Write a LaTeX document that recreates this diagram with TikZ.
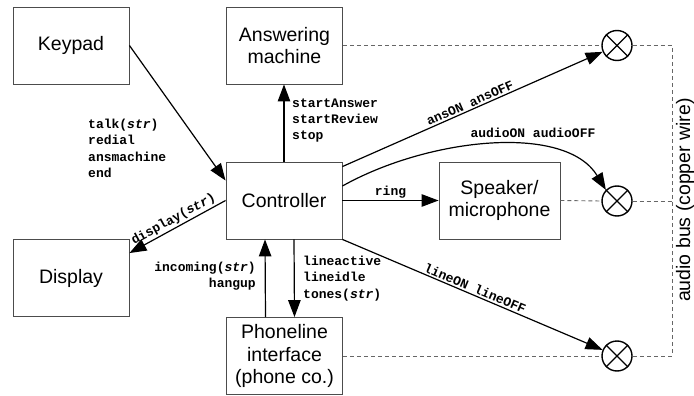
\documentclass[tikz,border=0pt]{standalone}
\usepackage{fontspec}
\setmainfont{Liberation Sans}
\setmonofont{Liberation Mono}
\usetikzlibrary{arrows.meta,calc}
\begin{document}
\begin{tikzpicture}[x=1pt,y=-1pt,
  box/.style={draw=black!70, line width=0.9pt, minimum width=116pt, minimum height=77pt,
    inner sep=0pt, align=center, font=\fontsize{19.5}{22.5}\selectfont},
  mixer/.style={circle, draw, line width=1.4pt, minimum size=30pt, inner sep=0pt},
  sig/.style={-{Triangle[length=17pt,width=12.5pt]}, line width=1.2pt},
  bus/.style={draw=black!60, line width=0.9pt, dash pattern=on 4pt off 3pt},
  lbl/.style={font=\fontsize{13}{16.3}\selectfont\ttfamily\bfseries, inner sep=2pt},
]
\useasboundingbox (0,0) rectangle (694,396);

% components
\node[box] (keypad) at (71,45.5) {Keypad};
\node[box] (ans) at (284.5,45.5) {Answering\\machine};
\node[box] (ctrl) at (284,200.5) {Controller};
\node[box] (disp) at (71,278) {Display};
\node[box, minimum width=121pt] (spk) at (499.5,200.5) {Speaker/\\microphone};
\node[box] (phone) at (284.5,356) {Phoneline\\interface\\(phone co.)};

% audio switches
\node[mixer] (m1) at (617,45.5) {};
\node[mixer] (m2) at (617,201) {};
\node[mixer] (m3) at (617,356) {};
\foreach \m in {m1,m2,m3}
  \draw[line width=1.4pt] (\m.north west) -- (\m.south east)
                          (\m.north east) -- (\m.south west);

% audio bus
\coordinate (busT) at (672,45.5);
\coordinate (busB) at (672,356);
\draw[bus] (ans.east) -- (m1.west);
\draw[bus] (m1.east) -- (busT) -- (busB) -- (m3.east);
\draw[bus] (phone.east) -- (m3.west);
\draw[bus] (spk.east) -- (m2.west);
\draw[bus] (m2.east) -- (m2.east -| busT);
\node[rotate=90, font=\fontsize{19.5}{22}\selectfont] (buslbl) at (685,200) {audio bus (copper wire)};

% control signals
\draw[sig] (keypad.east) -- ([yshift=20pt]ctrl.west);
\draw[sig] (ctrl.north) -- (ctrl.north |- ans.south);
\draw[sig] (ctrl.west) -- ([yshift=-14pt]disp.north east);
\draw[sig] (ctrl.east) -- (spk.west);
\draw[sig] ([yshift=-5pt]ctrl.north east) -- (m1);
\draw[sig] ([yshift=14.5pt]ctrl.east) .. controls (428,138) and (565,123) .. (m2.north west);
\draw[sig] (ctrl.south east) -- (m3);
\draw[sig] ([xshift=-19pt]phone.north) -- ([xshift=-19pt]ctrl.south);
\draw[sig] ([xshift=10pt]ctrl.south) -- ([xshift=10pt]phone.north);

% signal labels
\node[lbl, anchor=west, align=left] (kpl) at (86,148.5)
  {talk(\textit{str})\\redial\\ansmachine\\end};
\node[lbl, anchor=west, align=left] (aml) at (290,120.5)
  {startAnswer\\startReview\\stop};
\node[lbl, anchor=east, align=right] (inl) at (258,276.5)
  {incoming(\textit{str})\\hangup};
\node[lbl, anchor=west, align=left] (lal) at (301,278.5)
  {lineactive\\lineidle\\tones(\textit{str})};
\node[lbl] (audl) at (533,133) {audioON audioOFF};
\path ([yshift=-14pt]disp.north east) -- (ctrl.west)
  node[lbl, midway, above, sloped] (dspl) {display(\textit{str})};
\path (ctrl.east) -- (spk.west) node[lbl, midway, above] (ringl) {ring};
\path ([yshift=-5pt]ctrl.north east) -- (m1)
  node[lbl, midway, above, sloped] (ansl) {ansON ansOFF};
\path (ctrl.south east) -- (m3)
  node[lbl, midway, above, sloped] (linel) {lineON lineOFF};
\end{tikzpicture}
\end{document}
